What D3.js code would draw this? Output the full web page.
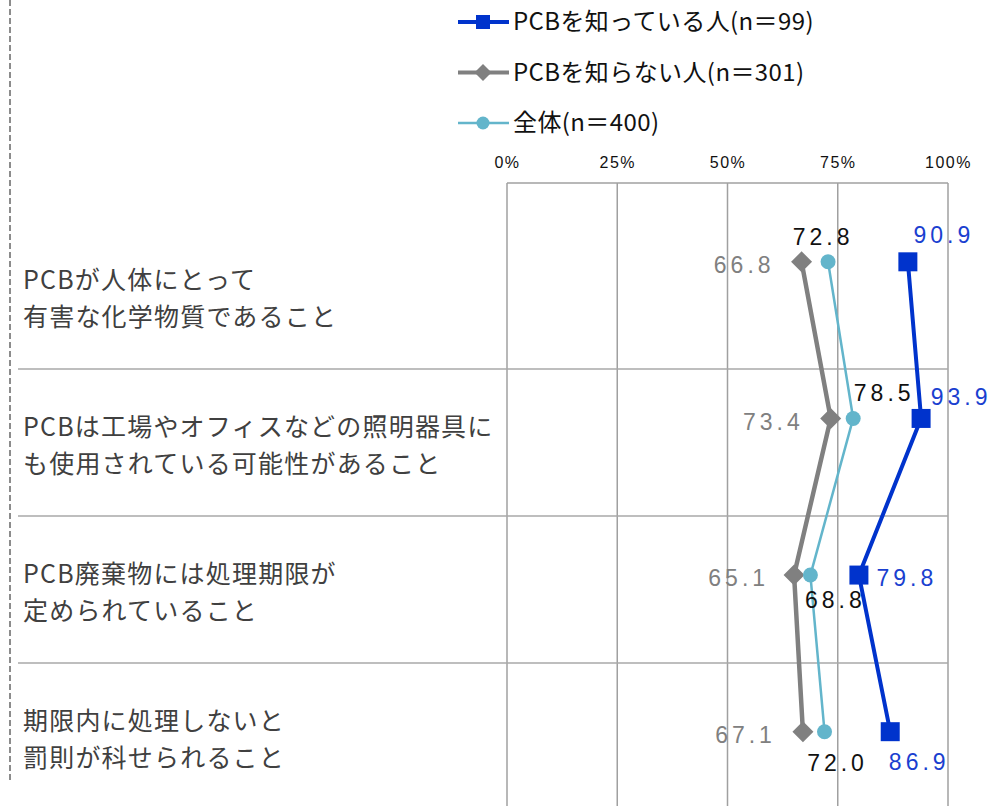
<!DOCTYPE html>
<html>
<head>
<meta charset="utf-8">
<script src="https://cdn.jsdelivr.net/npm/d3@7"></script>
<style>
  html, body { margin: 0; padding: 0; background: #fff; }
  svg { display: block; font-family: "Noto Sans CJK JP", "Noto Sans", sans-serif; }
</style>
</head>
<body>
<div id="chart"></div>
<script>
// categories (two-line labels) and the three series, in %
const categories = [
  ["PCBが人体にとって", "有害な化学物質であること"],
  ["PCBは工場やオフィスなどの照明器具に", "も使用されている可能性があること"],
  ["PCB廃棄物には処理期限が", "定められていること"],
  ["期限内に処理しないと", "罰則が科せられること"]
];
const seriesNames = ["PCBを知っている人(n＝99)", "PCBを知らない人(n＝301)", "全体(n＝400)"];
const knowValues = [90.9, 93.9, 79.8, 86.9];
const notKnowValues = [66.8, 73.4, 65.1, 67.1];
const totalValues = [72.8, 78.5, 68.8, 72.0];
const xTicks = [0, 25, 50, 75, 100];

// label placement (offset from the point, text anchor) per series
const labelOffsets = {
  know: [[36, -27, "middle"], [40, -22, "middle"], [48, 3, "middle"], [29, 30, "middle"]],
  notKnow: [[-27, 3, "end"], [-27, 3, "end"], [-25, 3, "end"], [-27, 3, "end"]],
  total: [[-5, -25, "middle"], [31, -26, "middle"], [25, 25, "middle"], [13, 31, "middle"]]
};

const width = 1008, height = 806;
const svg = d3.select("#chart").append("svg")
  .attr("width", width)
  .attr("height", height);

const keys = categories.map(c => c.join(""));

const x = d3.scaleLinear().domain([0, 100]).range([507, 948]);
// point rows (chart) and table rows (labels) don't quite line up in the original
const y = d3.scaleBand().domain(keys).range([183.5, 810]);
const rowY = d3.scaleBand().domain(keys).range([222, 810]);

// dashed line on the far left
svg.append("line")
  .attr("x1", 10).attr("x2", 10)
  .attr("y1", 0).attr("y2", 783)
  .attr("stroke", "#8c8c8c")
  .attr("stroke-width", 2)
  .attr("stroke-dasharray", "6,3");

// vertical gridlines
svg.append("g")
  .selectAll("line")
  .data(xTicks)
  .enter()
  .append("line")
    .attr("x1", d => x(d)).attr("x2", d => x(d))
    .attr("y1", 183).attr("y2", height)
    .attr("stroke", "#a0a0a0")
    .attr("stroke-width", 1.5);

// top border of plot
svg.append("line")
  .attr("x1", x(0)).attr("x2", x(100))
  .attr("y1", 183).attr("y2", 183)
  .attr("stroke", "#a0a0a0")
  .attr("stroke-width", 1.5);

// row separators
svg.append("g")
  .selectAll("line")
  .data(keys.slice(1))
  .enter()
  .append("line")
    .attr("x1", 18).attr("x2", x(100))
    .attr("y1", d => rowY(d)).attr("y2", d => rowY(d))
    .attr("stroke", "#a8a8a8")
    .attr("stroke-width", 1.5);

// x axis tick labels on top
const xAxis = svg.append("g")
  .attr("transform", "translate(0,168)")
  .call(d3.axisTop(x).tickValues(xTicks).tickFormat(d => d + "%").tickSize(0).tickPadding(0));
xAxis.select(".domain").remove();
xAxis.selectAll("text")
  .attr("dy", "0")
  .style("font-family", "'Liberation Sans', Arial, sans-serif")
  .style("font-size", "16px")
  .style("letter-spacing", "1.5px")
  .attr("fill", "#111");

// category labels
const catLabels = svg.append("g")
  .selectAll("text")
  .data(categories)
  .enter()
  .append("text")
    .attr("x", 23)
    .attr("y", (d, i) => rowY(keys[i]) + rowY.bandwidth() / 2)
    .attr("fill", "#404040")
    .style("font-size", "25px")
    .style("letter-spacing", "1.2px");
catLabels.selectAll("tspan")
  .data(d => d)
  .enter()
  .append("tspan")
    .attr("x", 23)
    .attr("dy", (d, i) => i === 0 ? "-0.28em" : "1.48em")
    .text(d => d);

// series definitions
const series = [
  { key: "know", name: seriesNames[0], values: knowValues, color: "#0033cc", width: 4, shape: "square", labelColor: "#1a3fd0" },
  { key: "notKnow", name: seriesNames[1], values: notKnowValues, color: "#808080", width: 4.5, shape: "diamond", labelColor: "#808080" },
  { key: "total", name: seriesNames[2], values: totalValues, color: "#63b5cb", width: 2.5, shape: "circle", labelColor: "#111" }
];

const symbolFor = (shape, size) => {
  if (shape === "square") return d3.symbol().type(d3.symbolSquare).size(size * size)();
  if (shape === "diamond") return d3.symbol().type(d3.symbolSquare).size(size * size / 2)();
  return d3.symbol().type(d3.symbolCircle).size(Math.PI * (size / 2) * (size / 2))();
};

const line = d3.line()
  .x(d => x(d.value))
  .y(d => y(d.key) + y.bandwidth() / 2);

// draw the lighter/thinner series first so the others sit on top
const drawOrder = [series[1], series[2], series[0]];
drawOrder.forEach(s => {
  const pts = s.values.map((v, i) => ({ key: keys[i], value: v, i }));
  const g = svg.append("g");
  g.append("path")
    .datum(pts)
    .attr("d", line)
    .attr("fill", "none")
    .attr("stroke", s.color)
    .attr("stroke-width", s.width)
    .attr("stroke-linejoin", "round");
  const size = s.shape === "square" ? 19 : s.shape === "diamond" ? 21 : 15;
  g.selectAll(".pt")
    .data(pts)
    .enter()
    .append("path")
      .attr("class", "pt")
      .attr("d", symbolFor(s.shape, size))
      .attr("transform", d => `translate(${x(d.value)},${y(d.key) + y.bandwidth() / 2})` + (s.shape === "diamond" ? " rotate(45)" : ""))
      .attr("fill", s.color);
});

// value labels
series.forEach(s => {
  svg.append("g")
    .selectAll("text")
    .data(s.values.map((v, i) => ({ key: keys[i], value: v, off: labelOffsets[s.key][i] })))
    .enter()
    .append("text")
      .attr("x", d => x(d.value) + d.off[0])
      .attr("y", d => y(d.key) + y.bandwidth() / 2 + d.off[1])
      .attr("dy", "0.36em")
      .attr("text-anchor", d => d.off[2])
      .attr("fill", s.labelColor)
      .style("font-family", "'Liberation Sans', Arial, sans-serif")
      .style("font-size", "23px")
      .style("letter-spacing", "4px")
      .text(d => d.value.toFixed(1));
});

// legend
const legend = svg.append("g")
  .selectAll("g")
  .data(series)
  .enter()
  .append("g")
    .attr("transform", (d, i) => `translate(0,${22 + i * 50.5})`);
legend.append("line")
  .attr("x1", 458).attr("x2", 509)
  .attr("stroke", d => d.color)
  .attr("stroke-width", d => d.shape === "circle" ? 2.5 : 4);
legend.append("path")
  .attr("d", d => symbolFor(d.shape, d.shape === "square" ? 14 : d.shape === "diamond" ? 17 : 13))
  .attr("transform", d => "translate(483,0)" + (d.shape === "diamond" ? " rotate(45)" : ""))
  .attr("fill", d => d.color);
legend.append("text")
  .attr("x", 513)
  .attr("dy", "0.35em")
  .attr("fill", "#111")
  .style("font-size", "24px")
  .style("letter-spacing", "0.4px")
  .text(d => d.name);
</script>
</body>
</html>
